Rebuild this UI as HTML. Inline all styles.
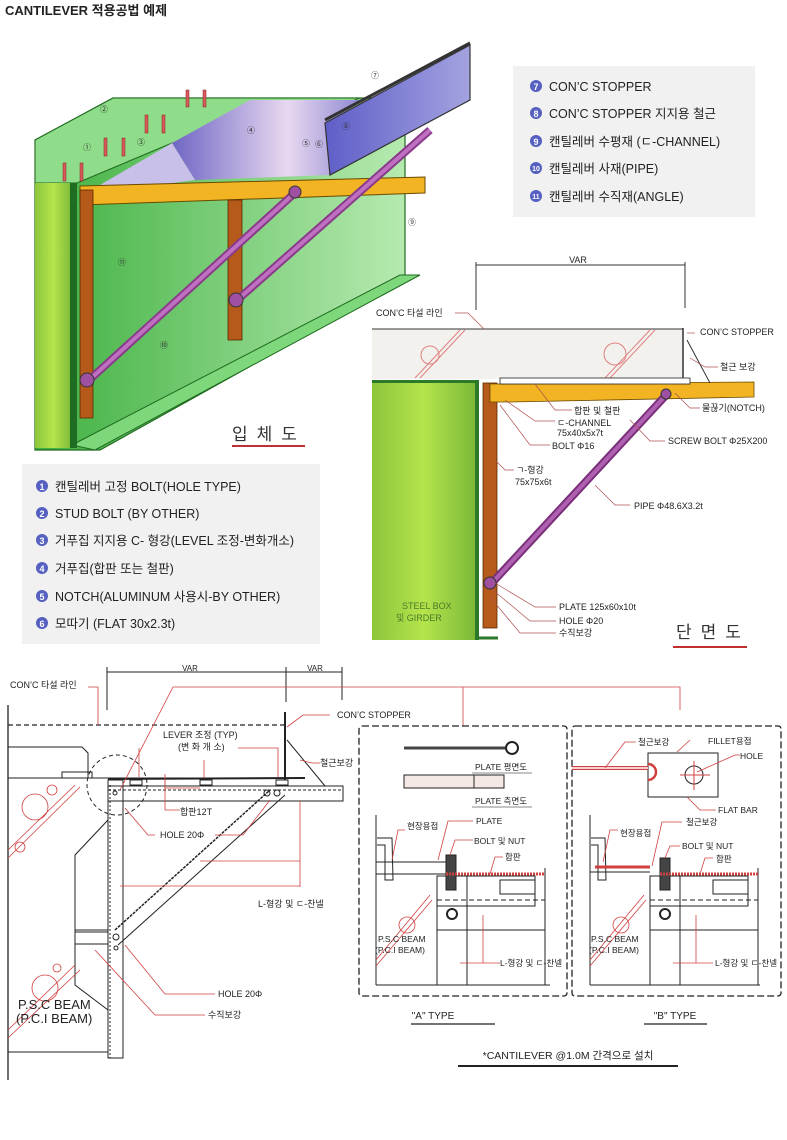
<!DOCTYPE html>
<html><head><meta charset="utf-8"><style>
html,body{margin:0;padding:0;background:#fff;}
svg{display:block;}
text{font-family:"Liberation Sans","Noto Sans CJK KR",sans-serif;}
.k{font-family:"Liberation Sans","Noto Sans CJK KR",sans-serif;}
</style></head><body>
<svg width="787" height="1140" viewBox="0 0 787 1140" xmlns="http://www.w3.org/2000/svg">
<defs>
<linearGradient id="gw" x1="0" y1="0" x2="1" y2="0"><stop offset="0" stop-color="#3fb040"/><stop offset="1" stop-color="#b6eab0"/></linearGradient>
<linearGradient id="gc" x1="0" y1="0" x2="1" y2="0"><stop offset="0" stop-color="#8cc63c"/><stop offset="0.5" stop-color="#b5e44c"/><stop offset="1" stop-color="#7cb938"/></linearGradient>
<linearGradient id="gp" x1="0" y1="0" x2="1" y2="0"><stop offset="0" stop-color="#6f66c4"/><stop offset="0.6" stop-color="#e8d8f0"/><stop offset="1" stop-color="#8a84d0"/></linearGradient>
<linearGradient id="gs" x1="0" y1="0" x2="1" y2="0"><stop offset="0" stop-color="#5f5ec8"/><stop offset="1" stop-color="#a3a3e0"/></linearGradient>
</defs>
<text x="5" y="15" font-size="13" font-weight="bold" fill="#222">CANTILEVER 적용공법 예제</text>

<!-- ===== 3D drawing ===== -->
<polygon points="35,140 113,98 405,98 405,280 100,450 35,450" fill="url(#gw)" stroke="#1e6a1e" stroke-width="1.2"/>
<polygon points="35,140 113,98 360,98 250,142 172,143 77,183 35,183" fill="#8fdc8a" stroke="#1e6a1e" stroke-width="1"/>
<polygon points="72,445 400,275 420,275 95,450" fill="#7ed77a" stroke="#1e6a1e" stroke-width="1"/>
<rect x="35" y="183" width="37" height="265" fill="url(#gc)"/>
<rect x="70" y="183" width="7" height="265" fill="#1f6d22"/>
<polygon points="172,143 250,100 365,100 325,123 330,175 195,180" fill="url(#gp)"/>
<polygon points="100,185 172,143 195,180 120,190" fill="#c8c0e8"/>
<polygon points="325,123 470,45 470,100 330,175" fill="url(#gs)" stroke="#333" stroke-width="1.2"/>
<line x1="325" y1="120" x2="470" y2="43" stroke="#333" stroke-width="3"/>
<polygon points="80,186 425,177 425,193 80,205" fill="#f2b422" stroke="#6a4a00" stroke-width="1"/>
<rect x="80" y="190" width="13" height="228" fill="#b65a1c" stroke="#5a2a00" stroke-width="0.8"/>
<rect x="228" y="200" width="14" height="140" fill="#b65a1c" stroke="#5a2a00" stroke-width="0.8"/>
<line x1="87" y1="382" x2="298" y2="190" stroke="#8a3a8a" stroke-width="8"/>
<line x1="87" y1="382" x2="298" y2="190" stroke="#c070c0" stroke-width="4"/>
<line x1="235" y1="302" x2="430" y2="130" stroke="#8a3a8a" stroke-width="8"/>
<line x1="235" y1="302" x2="430" y2="130" stroke="#c070c0" stroke-width="4"/>
<circle cx="87" cy="380" r="7" fill="#a050a0" stroke="#333"/>
<circle cx="236" cy="300" r="7" fill="#a050a0" stroke="#333"/>
<circle cx="295" cy="192" r="6" fill="#a050a0" stroke="#333"/>
<g fill="#d85a5a" stroke="#8a2020" stroke-width="0.5">
<rect x="63" y="163" width="3" height="18"/><rect x="80" y="163" width="3" height="18"/>
<rect x="104" y="138" width="3" height="18"/><rect x="122" y="138" width="3" height="18"/>
<rect x="145" y="115" width="3" height="18"/><rect x="162" y="115" width="3" height="18"/>
<rect x="186" y="90" width="3" height="17"/><rect x="203" y="90" width="3" height="17"/>
</g>
<g font-size="8" fill="#333" text-anchor="middle">
<text x="87" y="150">①</text><text x="104" y="112">②</text><text x="141" y="145">③</text><text x="251" y="133">④</text>
<text x="306" y="146">⑤</text><text x="319" y="147">⑥</text><text x="375" y="78">⑦</text><text x="346" y="129">⑧</text>
<text x="412" y="225">⑨</text><text x="122" y="265">⑪</text><text x="164" y="348">⑩</text>
</g>
<text x="232" y="440" font-size="17" fill="#333" letter-spacing="9" class="k">입체도</text>
<line x1="232" y1="446" x2="305" y2="446" stroke="#c03030" stroke-width="2"/>

<!-- legend top right -->
<rect x="513" y="66" width="242" height="151" fill="#f1f1f1"/>
<g font-size="12.5" fill="#222">
<circle cx="536" cy="86" r="6" fill="#5560c0"/><text x="536" y="90" font-size="9" fill="#fff" text-anchor="middle" font-weight="bold">7</text><text x="549" y="91">CON’C STOPPER</text>
<circle cx="536" cy="113" r="6" fill="#5560c0"/><text x="536" y="117" font-size="9" fill="#fff" text-anchor="middle" font-weight="bold">8</text><text x="549" y="118">CON’C STOPPER 지지용 철근</text>
<circle cx="536" cy="141" r="6" fill="#5560c0"/><text x="536" y="145" font-size="9" fill="#fff" text-anchor="middle" font-weight="bold">9</text><text x="549" y="146">캔틸레버 수평재 (ㄷ-CHANNEL)</text>
<circle cx="536" cy="168" r="6" fill="#5560c0"/><text x="536" y="171" font-size="7" fill="#fff" text-anchor="middle" font-weight="bold">10</text><text x="549" y="173">캔틸레버 사재(PIPE)</text>
<circle cx="536" cy="196" r="6" fill="#5560c0"/><text x="536" y="199" font-size="7" fill="#fff" text-anchor="middle" font-weight="bold">11</text><text x="549" y="201">캔틸레버 수직재(ANGLE)</text>
</g>

<!-- legend bottom left -->
<rect x="22" y="464" width="298" height="180" fill="#f1f1f1"/>
<g font-size="12.5" fill="#222">
<circle cx="42" cy="486" r="6" fill="#5560c0"/><text x="42" y="490" font-size="9" fill="#fff" text-anchor="middle" font-weight="bold">1</text><text x="55" y="491">캔틸레버 고정 BOLT(HOLE TYPE)</text>
<circle cx="42" cy="513" r="6" fill="#5560c0"/><text x="42" y="517" font-size="9" fill="#fff" text-anchor="middle" font-weight="bold">2</text><text x="55" y="518">STUD BOLT (BY OTHER)</text>
<circle cx="42" cy="540" r="6" fill="#5560c0"/><text x="42" y="544" font-size="9" fill="#fff" text-anchor="middle" font-weight="bold">3</text><text x="55" y="545">거푸집 지지용 C- 형강(LEVEL 조정-변화개소)</text>
<circle cx="42" cy="568" r="6" fill="#5560c0"/><text x="42" y="572" font-size="9" fill="#fff" text-anchor="middle" font-weight="bold">4</text><text x="55" y="573">거푸집(합판 또는 철판)</text>
<circle cx="42" cy="596" r="6" fill="#5560c0"/><text x="42" y="600" font-size="9" fill="#fff" text-anchor="middle" font-weight="bold">5</text><text x="55" y="601">NOTCH(ALUMINUM 사용시-BY OTHER)</text>
<circle cx="42" cy="623" r="6" fill="#5560c0"/><text x="42" y="627" font-size="9" fill="#fff" text-anchor="middle" font-weight="bold">6</text><text x="55" y="628">모따기 (FLAT 30x2.3t)</text>
</g>

<!-- ===== Section drawing ===== -->
<line x1="476" y1="265" x2="685" y2="265" stroke="#333"/>
<line x1="476" y1="262" x2="476" y2="310" stroke="#333"/>
<line x1="685" y1="262" x2="685" y2="308" stroke="#333"/>
<text x="578" y="263" font-size="9" fill="#222" text-anchor="middle">VAR</text>
<rect x="372" y="329" width="311" height="50" fill="#f3f1ee"/>
<line x1="372" y1="329" x2="683" y2="329" stroke="#333"/>
<line x1="415" y1="378" x2="460" y2="330" stroke="#e08080"/><line x1="420" y1="378" x2="465" y2="330" stroke="#e08080"/>
<circle cx="430" cy="355" r="9" fill="none" stroke="#e08080"/>
<line x1="605" y1="378" x2="650" y2="330" stroke="#e08080"/><line x1="610" y1="378" x2="655" y2="330" stroke="#e08080"/>
<circle cx="615" cy="354" r="11" fill="none" stroke="#e08080"/>
<rect x="372" y="381" width="103" height="259" fill="url(#gc)"/>
<rect x="475" y="381" width="4" height="259" fill="#2a7a2a"/>
<rect x="372" y="380" width="107" height="3" fill="#2a7a2a"/>
<line x1="479" y1="638" x2="498" y2="638" stroke="#2a7a2a" stroke-width="3"/>
<rect x="483" y="383" width="14" height="245" fill="#b65a1c" stroke="#5a2a00" stroke-width="0.8"/>
<polygon points="490,384 754,382 754,397 510,402 490,402" fill="#f2b422" stroke="#6a4a00" stroke-width="0.8"/>
<rect x="500" y="378" width="190" height="6" fill="#fff" stroke="#222" stroke-width="0.8"/>
<line x1="683" y1="328" x2="683" y2="378" stroke="#333" stroke-width="1.5"/>
<line x1="687" y1="340" x2="710" y2="383" stroke="#333"/>
<line x1="490" y1="585" x2="668" y2="393" stroke="#7a307a" stroke-width="8"/>
<line x1="490" y1="585" x2="668" y2="393" stroke="#b060b0" stroke-width="4"/>
<circle cx="490" cy="583" r="6" fill="#a050a0" stroke="#333"/>
<circle cx="666" cy="394" r="5" fill="#a050a0" stroke="#333"/>
<text x="402" y="609" font-size="9" fill="#4a7a2a" class="k">STEEL  BOX</text>
<text x="396" y="621" font-size="9" fill="#4a7a2a" class="k">및  GIRDER</text>
<g font-size="9" fill="#222" class="k">
<text x="376" y="316">CON’C 타설 라인</text>
<text x="700" y="335">CON’C STOPPER</text>
<text x="720" y="370">철근 보강</text>
<text x="574" y="414">합판 및 철판</text>
<text x="557" y="426">ㄷ-CHANNEL</text>
<text x="557" y="436">75x40x5x7t</text>
<text x="552" y="449">BOLT Φ16</text>
<text x="702" y="411">물끊기(NOTCH)</text>
<text x="668" y="444">SCREW BOLT Φ25X200</text>
<text x="516" y="473">ㄱ-형강</text>
<text x="515" y="485">75x75x6t</text>
<text x="634" y="509">PIPE Φ48.6X3.2t</text>
<text x="559" y="610">PLATE 125x60x10t</text>
<text x="559" y="624">HOLE Φ20</text>
<text x="559" y="636">수직보강</text>
</g>
<g stroke="#b05050" fill="none" stroke-width="0.7">
<polyline points="455,313 468,313 484,329"/>
<polyline points="695,333 687,333"/>
<polyline points="718,367 705,367 690,358"/>
<polyline points="572,410 555,410 535,384"/>
<polyline points="555,421 535,421 505,400"/>
<polyline points="550,445 530,445 500,405"/>
<polyline points="700,408 690,408 675,393"/>
<polyline points="665,441 650,441 630,420"/>
<polyline points="514,470 505,470 495,460"/>
<polyline points="630,505 615,505 595,485"/>
<polyline points="556,607 535,607 495,583"/>
<polyline points="556,621 530,621 493,590"/>
<polyline points="556,633 520,633 490,597"/>
</g>
<text x="676" y="638" font-size="17" fill="#333" letter-spacing="9" class="k">단면도</text>
<line x1="673" y1="647" x2="747" y2="647" stroke="#c03030" stroke-width="2"/>

<!-- ===== Bottom drawing ===== -->
<g stroke="#222" fill="none" stroke-width="1">
<line x1="107" y1="672" x2="342" y2="672"/>
<line x1="107" y1="667" x2="107" y2="710"/>
<line x1="286" y1="667" x2="286" y2="702"/>
<line x1="342" y1="667" x2="342" y2="700"/>
<line x1="8" y1="725" x2="285" y2="725" stroke-dasharray="5,3" stroke-width="1.3"/>
<line x1="8" y1="705" x2="8" y2="1080" stroke-width="1.3"/>
<line x1="8" y1="778" x2="285" y2="778"/>
<polyline points="8,747 82,747 88,753 88,778"/>
<rect x="62" y="772" width="30" height="6"/>
<line x1="285" y1="712" x2="285" y2="780" stroke-width="2"/>
<line x1="287" y1="740" x2="325" y2="786"/>
<line x1="108" y1="779" x2="305" y2="778" stroke-width="2"/>
<rect x="108" y="786" width="235" height="15"/>
<line x1="108" y1="790" x2="343" y2="790" stroke-dasharray="3,2"/>
<rect x="108" y="780" width="15" height="278"/>
<line x1="110" y1="785" x2="110" y2="1058" stroke-dasharray="2,2"/>
<line x1="115" y1="930" x2="270" y2="790" stroke-width="1.5" stroke-dasharray="3,1"/>
<line x1="118" y1="945" x2="285" y2="795"/>
<circle cx="117" cy="785" r="30" stroke-dasharray="4,3"/>
<polyline points="108,820 75,855 75,930 108,930"/>
<polyline points="75,930 75,985 108,1010"/>
<line x1="75" y1="932" x2="108" y2="932"/>
<line x1="75" y1="944" x2="108" y2="944"/>
<line x1="8" y1="1052" x2="108" y2="1052"/>
<circle cx="115" cy="793" r="2"/><circle cx="116" cy="937" r="3"/><circle cx="116" cy="948" r="2"/>
<circle cx="267" cy="793" r="3"/><circle cx="277" cy="793" r="3"/>
<rect x="130" y="780" width="12" height="5"/><rect x="200" y="780" width="12" height="5"/><rect x="276" y="780" width="12" height="5"/>
</g>
<g stroke="#d04040" fill="none" stroke-width="0.8">
<line x1="8" y1="850" x2="75" y2="785"/><line x1="8" y1="858" x2="80" y2="787"/>
<circle cx="35" cy="807" r="13"/><circle cx="52" cy="790" r="5"/><circle cx="20" cy="847" r="5"/>
<line x1="8" y1="1030" x2="75" y2="965"/><line x1="8" y1="1038" x2="80" y2="970"/>
<circle cx="45" cy="988" r="13"/><circle cx="57" cy="968" r="4"/>
<polyline points="88,687 98,687 98,725"/>
<polyline points="120,790 173,687 680,687 680,710"/>
<polyline points="463,687 463,726"/>
<polyline points="330,715 303,715 287,727"/>
<polyline points="320,763 312,763 300,760"/>
<polyline points="165,774 165,788 200,788"/>
<polyline points="139,748 139,777"/><polyline points="238,748 278,748 278,777"/>
<polyline points="204,760 204,778"/>
<polyline points="180,810 165,810 165,780"/>
<polyline points="155,835 148,835 125,808"/>
<polyline points="215,835 243,835 270,800"/>
<polyline points="300,801 300,887"/>
<line x1="200" y1="861" x2="300" y2="861"/><line x1="120" y1="886" x2="300" y2="886"/>
<polyline points="215,994 165,994 125,945"/>
<polyline points="205,1015 155,1015 95,950"/>
</g>
<g font-size="9" fill="#222" class="k">
<text x="190" y="671" text-anchor="middle" font-size="8">VAR</text>
<text x="315" y="671" text-anchor="middle" font-size="8">VAR</text>
<text x="10" y="688">CON’C 타설 라인</text>
<text x="337" y="718">CON’C STOPPER</text>
<text x="163" y="738">LEVER  조정 (TYP)</text>
<text x="178" y="750">(변 화 개 소)</text>
<text x="320" y="766">철근보강</text>
<text x="180" y="815">합판12T</text>
<text x="160" y="838">HOLE 20Φ</text>
<text x="258" y="907">L-형강 및 ㄷ-찬넬</text>
<text x="218" y="997">HOLE 20Φ</text>
<text x="208" y="1018">수직보강</text>
<text x="18" y="1009" font-size="13">P.S.C BEAM</text>
<text x="16" y="1023" font-size="13">(P.C.I BEAM)</text>
</g>

<!-- A type box -->
<g stroke="#222" fill="none">
<rect x="359" y="726" width="208" height="270" rx="3" stroke-dasharray="7,3" stroke-width="1.3"/>
<rect x="572" y="726" width="209" height="270" rx="3" stroke-dasharray="7,3" stroke-width="1.3"/>
<line x1="404" y1="748" x2="505" y2="748" stroke-width="3" stroke="#444"/>
<circle cx="512" cy="748" r="6" stroke-width="2"/>
<rect x="404" y="775" width="100" height="13" fill="#f4e8e4"/>
<line x1="474" y1="775" x2="474" y2="788"/>
<line x1="376" y1="815" x2="376" y2="985"/>
<polyline points="377,838 392,838 393,880 385,880 385,845 377,845"/>
<line x1="376" y1="862" x2="446" y2="862"/><line x1="376" y1="874" x2="446" y2="874"/>
<rect x="437" y="876" width="98" height="30"/>
<line x1="437" y1="900" x2="545" y2="900" stroke-dasharray="5,3"/>
<line x1="437" y1="876" x2="437" y2="985"/><line x1="467" y1="876" x2="467" y2="985"/>
<line x1="437" y1="930" x2="545" y2="930"/>
<line x1="376" y1="985" x2="550" y2="985"/>
<line x1="545" y1="868" x2="545" y2="985"/>
<circle cx="452" cy="914" r="5" stroke-width="2"/>
<rect x="500" y="880" width="35" height="14"/>
<rect x="446" y="855" width="10" height="35" fill="#444"/>
<!-- B -->
<rect x="648" y="753" width="70" height="44"/>
<circle cx="694" cy="775" r="9"/>
<line x1="680" y1="775" x2="710" y2="775" stroke="#d04040"/><line x1="694" y1="761" x2="694" y2="790" stroke="#d04040"/>
<line x1="590" y1="815" x2="590" y2="985"/>
<polyline points="591,838 605,838 606,880 598,880 598,845 591,845"/>
<line x1="590" y1="872" x2="650" y2="872"/>
<rect x="650" y="876" width="98" height="30"/>
<line x1="650" y1="900" x2="758" y2="900" stroke-dasharray="5,3"/>
<line x1="650" y1="876" x2="650" y2="985"/><line x1="680" y1="876" x2="680" y2="985"/>
<line x1="650" y1="930" x2="758" y2="930"/>
<line x1="590" y1="985" x2="760" y2="985"/>
<line x1="758" y1="868" x2="758" y2="985"/>
<circle cx="665" cy="914" r="5" stroke-width="2"/>
<rect x="713" y="880" width="35" height="14"/>
<rect x="660" y="858" width="10" height="32" fill="#444"/>
</g>
<g stroke="#d04040" fill="none" stroke-width="0.8">
<line x1="572" y1="768" x2="648" y2="768" stroke-width="4"/>
<line x1="572" y1="768" x2="648" y2="768" stroke="#fff" stroke-width="1.5"/>
<path d="M648,764 A7,7 0 0 1 648,780" stroke-width="2.5"/>
<line x1="446" y1="874" x2="545" y2="874" stroke-width="3" stroke-dasharray="2,1"/>
<line x1="660" y1="874" x2="758" y2="874" stroke-width="3" stroke-dasharray="2,1"/>
<line x1="595" y1="867" x2="650" y2="867" stroke-width="3"/>
<line x1="376" y1="960" x2="430" y2="895"/><line x1="376" y1="966" x2="432" y2="900"/>
<circle cx="407" cy="925" r="8"/>
<line x1="590" y1="960" x2="644" y2="895"/><line x1="590" y1="966" x2="646" y2="900"/>
<circle cx="621" cy="925" r="8"/>
<line x1="483" y1="915" x2="483" y2="963"/><line x1="460" y1="963" x2="500" y2="963"/>
<line x1="696" y1="915" x2="696" y2="963"/><line x1="673" y1="963" x2="713" y2="963"/>
<polyline points="605,768 625,742 636,742"/>
<polyline points="677,752 690,740"/>
<polyline points="697,772 735,755 740,755"/>
<polyline points="687,797 700,810 716,810"/>
<polyline points="392,860 398,830 405,830"/>
<polyline points="438,860 448,821 473,821"/>
<polyline points="450,855 455,840 473,840"/>
<polyline points="490,874 495,857 503,857"/>
<polyline points="603,862 610,830 618,830"/>
<polyline points="652,866 662,822 682,822"/>
<polyline points="665,858 670,846 680,846"/>
<polyline points="700,874 705,858 713,858"/>
</g>
<g font-size="8.5" fill="#222" class="k">
<text x="475" y="770">PLATE 평면도</text><line x1="472" y1="773" x2="532" y2="773" stroke="#888"/>
<text x="475" y="804">PLATE 측면도</text><line x1="472" y1="807" x2="532" y2="807" stroke="#888"/>
<text x="407" y="829">현장용접</text>
<text x="476" y="824">PLATE</text>
<text x="474" y="844">BOLT 및 NUT</text>
<text x="505" y="860">합판</text>
<text x="378" y="942">P.S.C BEAM</text>
<text x="375" y="953">(P.C.I BEAM)</text>
<text x="500" y="966">L-형강 및 ㄷ-찬넬</text>
<text x="638" y="745">철근보강</text>
<text x="708" y="744">FILLET용접</text>
<text x="740" y="759">HOLE</text>
<text x="718" y="813">FLAT BAR</text>
<text x="686" y="825">철근보강</text>
<text x="620" y="836">현장용접</text>
<text x="682" y="849">BOLT 및 NUT</text>
<text x="716" y="862">합판</text>
<text x="591" y="942">P.S.C BEAM</text>
<text x="589" y="953">(P.C.I BEAM)</text>
<text x="715" y="966">L-형강 및 ㄷ-찬넬</text>
</g>
<text x="433" y="1019" font-size="10" fill="#222" text-anchor="middle">"A" TYPE</text>
<line x1="411" y1="1024" x2="495" y2="1024" stroke="#222" stroke-width="1.3"/>
<text x="675" y="1019" font-size="10" fill="#222" text-anchor="middle">"B" TYPE</text>
<line x1="644" y1="1024" x2="707" y2="1024" stroke="#222" stroke-width="1.3"/>
<text x="568" y="1059" font-size="10.5" fill="#222" text-anchor="middle" class="k">*CANTILEVER  @1.0M 간격으로  설치</text>
<line x1="458" y1="1066" x2="678" y2="1066" stroke="#222" stroke-width="2"/>
</svg>
</body></html>
